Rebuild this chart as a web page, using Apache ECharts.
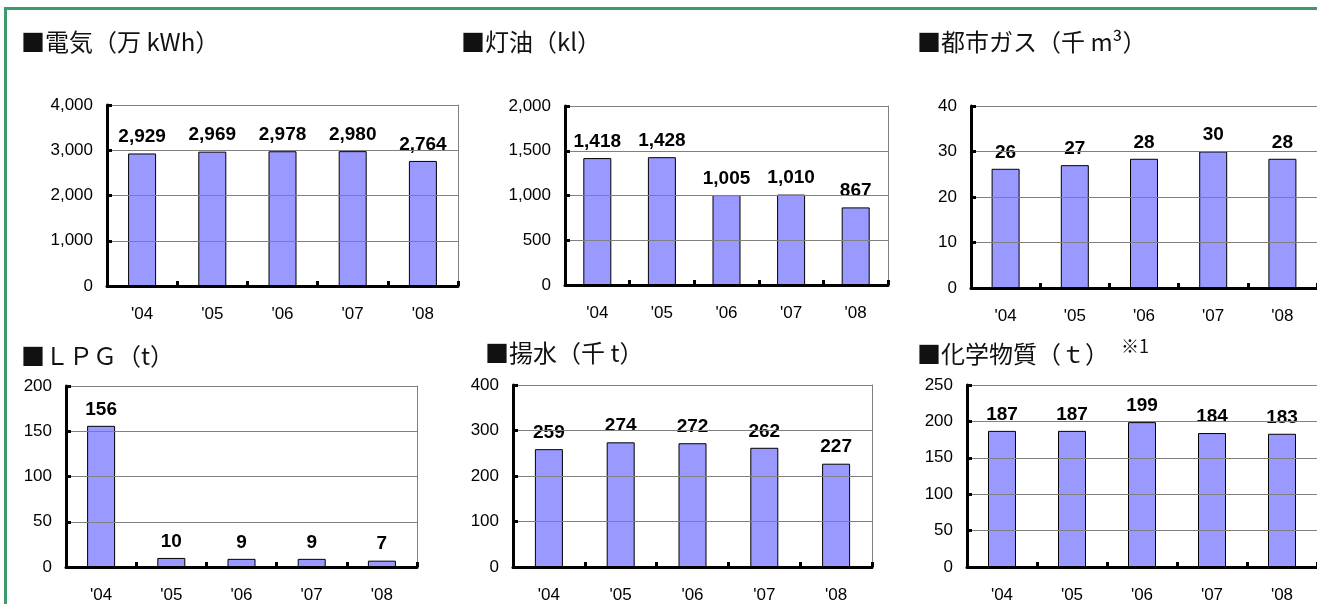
<!DOCTYPE html>
<html>
<head>
<meta charset="utf-8">
<script src="https://cdn.jsdelivr.net/npm/echarts@6/dist/echarts.min.js"></script>
<style>
  html, body { margin: 0; padding: 0; background: #fff; overflow: hidden; }
  #chart { position: absolute; left: 0; top: 0; width: 1317px; height: 604px; }
</style>
</head>
<body>
<div id="chart"></div>
<script>
// 年度
const years = ["'04", "'05", "'06", "'07", "'08"];

// 各項目の値
const electricity = [2929, 2969, 2978, 2980, 2764];   // 万kWh
const kerosene = [1418, 1428, 1005, 1010, 867];       // kl
const cityGas = [26.2, 27.0, 28.4, 30.0, 28.4];       // 千m3
const lpg = [156, 10, 9, 9, 7];                       // t
const pumpedWater = [259, 274, 272, 262, 227];        // 千t
const chemicals = [187, 187, 199, 184, 183];          // t

// 縦軸の最大値と目盛間隔
const axisMax = [4000, 2000, 40, 200, 400, 250];
const axisStep = [1000, 500, 10, 50, 100, 50];

const titles = ["■電気（万 kWh）", "■灯油（kl）", "■都市ガス（千 m³）",
  "■ＬＰＧ（t）", "■揚水（千 t）", "■化学物質（ｔ）"];
const seriesData = [electricity, kerosene, cityGas, lpg, pumpedWater, chemicals];

// パネル配置
const grids = [
  { left: 107, top: 105, width: 351, height: 181 },
  { left: 565, top: 106, width: 323, height: 179 },
  { left: 971, top: 106, width: 348, height: 182 },
  { left: 66, top: 386, width: 351, height: 182 },
  { left: 513, top: 385, width: 359, height: 182 },
  { left: 967, top: 385, width: 352, height: 182 },
];
const titlePos = [[21, 27], [461, 27], [917, 27], [21, 341], [485, 338], [917, 339]];

let myChart = echarts.init(document.getElementById("chart"));

myChart.setOption({
  animation: false,
  textStyle: { fontFamily: "Liberation Sans" },
  // 外枠（緑）
  graphic: [{
    type: "rect",
    shape: { x: 5.5, y: 8.5, width: 1400, height: 700 },
    style: { fill: "none", stroke: "#3d9b6b", lineWidth: 3 },
    silent: true,
  }],
  title: titles.map((t, i) => ({
    text: t,
    left: titlePos[i][0],
    top: titlePos[i][1],
    padding: 0,
    textStyle: {
      fontFamily: "Noto Sans CJK JP",
      fontSize: 24,
      fontWeight: "normal",
      color: "#111",
      lineHeight: 30,
    },
  })).concat([{
    text: "※1",
    left: 1121,
    top: 337,
    padding: 0,
    textStyle: { fontFamily: "Noto Sans CJK JP", fontSize: 18, fontWeight: "normal", color: "#111" },
  }]),
  grid: grids,
  xAxis: grids.map((g, i) => ({
    type: "category",
    gridIndex: i,
    data: years,
    z: 10,
    axisLine: { show: true, onZero: false, lineStyle: { color: "#000", width: 3 } },
    axisTick: { show: true, inside: true, length: 5, lineStyle: { color: "#000", width: 3 } },
    axisLabel: { margin: 20, fontSize: 17, color: "#000" },
  })),
  yAxis: grids.map((g, i) => ({
    type: "value",
    gridIndex: i,
    min: 0,
    max: axisMax[i],
    interval: axisStep[i],
    z: 10,
    axisLine: { show: true, onZero: false, lineStyle: { color: "#000", width: 3 } },
    axisTick: { show: true, inside: true, length: 5, lineStyle: { color: "#000", width: 3 } },
    splitLine: { show: true, lineStyle: { color: "#808080", width: 1 } },
    axisLabel: { margin: 14, fontSize: 17, color: "#000" },
  })).concat(grids.map((g, i) => ({
    // 右側の枠線
    type: "value",
    gridIndex: i,
    position: "right",
    min: 0,
    max: axisMax[i],
    interval: axisStep[i],
    axisLine: { show: true, onZero: false, lineStyle: { color: "#808080", width: 1 } },
    axisTick: { show: false },
    axisLabel: { show: false },
    splitLine: { show: false },
  }))),
  series: seriesData.map((d, i) => ({
    type: "bar",
    xAxisIndex: i,
    yAxisIndex: i,
    data: d,
    barWidth: 28,
    itemStyle: { color: "#9999ff", borderColor: "#000", borderWidth: 1 },
    label: {
      show: true,
      position: "top",
      distance: 7,
      fontWeight: "bold",
      fontSize: 19,
      color: "#000",
      formatter: (p) => Math.round(p.value).toLocaleString("en-US"),
    },
  })),
});
</script>
</body>
</html>
